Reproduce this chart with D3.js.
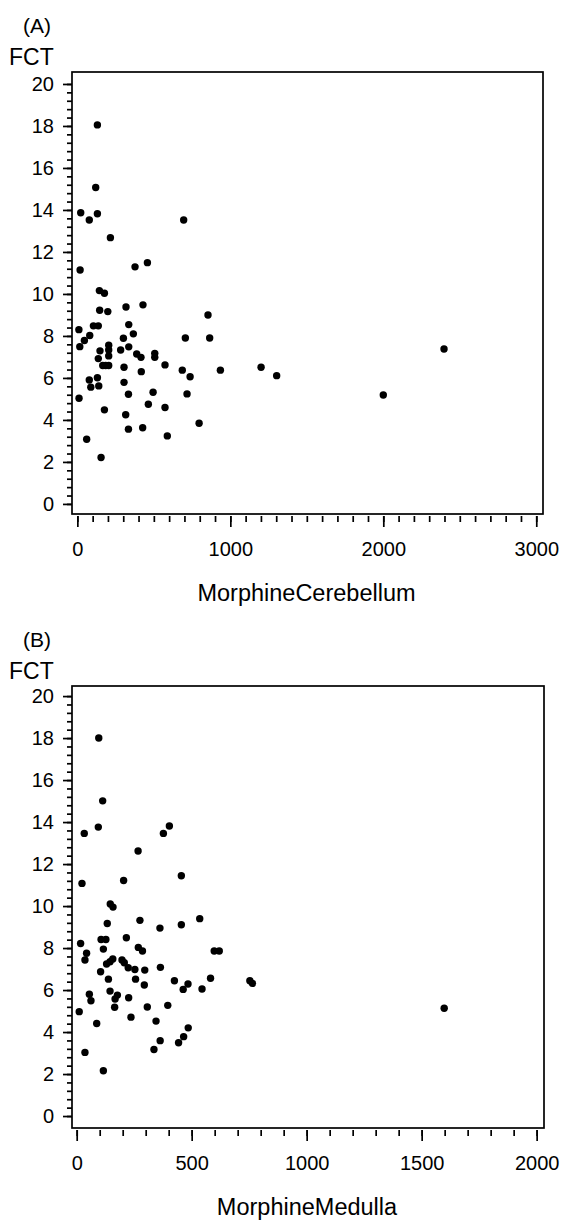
<!DOCTYPE html>
<html><head><meta charset="utf-8">
<script src="https://cdn.jsdelivr.net/npm/d3@7"></script>
<style>body{margin:0;background:#fff}svg{display:block}text{font-family:"Liberation Sans",Arial,sans-serif;fill:#000}</style>
</head><body>
<svg id="c" width="561" height="1223"></svg>
<script>
// Panel A: MorphineCerebellum vs FCT
const cerebellumX = [131,120,22,131,78,695,216,18,377,458,144,177,146,199,318,429,854,336,105,137,10,81,46,16,366,301,706,865,205,205,148,283,336,205,137,388,416,506,506,166,205,185,305,573,418,686,737,935,1201,1303,78,131,88,140,305,334,495,717,11,464,573,177,316,796,334,427,588,61,155,2000,2397];
const cerebellumFCT = [18.05,15.07,13.87,13.82,13.52,13.52,12.68,11.14,11.29,11.49,10.16,10.03,9.22,9.16,9.38,9.48,9.0,8.54,8.48,8.48,8.3,8.02,7.78,7.49,8.1,7.89,7.9,7.9,7.56,7.33,7.29,7.33,7.48,7.05,6.92,7.14,6.98,7.17,6.98,6.59,6.59,6.59,6.51,6.62,6.3,6.37,6.06,6.37,6.51,6.11,5.9,6.01,5.56,5.62,5.79,5.22,5.32,5.24,5.03,4.75,4.59,4.48,4.25,3.84,3.56,3.63,3.24,3.08,2.21,5.19,7.38];
// Panel B: MorphineMedulla vs FCT
const medullaX = [96,113,33,94,377,403,267,23,204,455,146,158,133,275,362,455,535,17,106,127,216,43,36,116,268,286,598,620,130,145,157,197,207,224,253,296,364,104,138,256,294,425,484,463,545,582,753,764,145,55,62,177,167,226,165,307,396,11,236,345,87,485,465,443,363,336,36,116,1598];
const medullaFCT = [18.0,15.01,13.46,13.76,13.46,13.81,12.62,11.08,11.22,11.44,10.1,9.95,9.17,9.32,8.95,9.11,9.4,8.22,8.41,8.41,8.49,7.75,7.43,7.95,8.03,7.86,7.86,7.86,7.24,7.35,7.48,7.43,7.3,7.06,6.98,6.95,7.08,6.87,6.52,6.52,6.24,6.44,6.29,6.03,6.05,6.56,6.44,6.32,5.95,5.8,5.49,5.76,5.57,5.63,5.18,5.19,5.27,4.97,4.71,4.52,4.41,4.2,3.78,3.49,3.59,3.17,3.03,2.16,5.13];
const yTicks = [0,2,4,6,8,10,12,14,16,18,20];
const xTicksA = [0,1000,2000,3000];
const xTicksB = [0,500,1000,1500,2000];

const svg = d3.select("#c");

function panel(o){
  const g = svg.append("g");
  const x = d3.scaleLinear().domain(o.xDom).range([o.left,o.right]);
  const y = d3.scaleLinear().domain(o.yDom).range([o.bottom,o.top]);
  // frame
  g.append("rect").attr("x",o.left).attr("y",o.top).attr("width",o.right-o.left).attr("height",o.bottom-o.top)
    .attr("fill","none").attr("stroke","#000").attr("stroke-width",1.7);
  // y axis
  const ya = g.append("g").attr("transform",`translate(${o.left},0)`)
    .call(d3.axisLeft(y).tickValues(d3.range(0,20.01,0.4)).tickSize(5).tickFormat(""));
  ya.select(".domain").remove();
  ya.selectAll("line").attr("stroke-width",1.7);
  const yb = g.append("g").attr("transform",`translate(${o.left},0)`)
    .call(d3.axisLeft(y).tickValues(yTicks).tickSize(9).tickPadding(9));
  yb.select(".domain").remove();
  yb.selectAll("line").attr("stroke-width",1.7);
  yb.selectAll("text").attr("font-size",20).attr("font-family","Liberation Sans, Arial, sans-serif");
  // x axis (offset below frame)
  const xa = g.append("g").attr("transform",`translate(0,${o.bottom+2})`)
    .call(d3.axisBottom(x).tickValues(d3.range(0,o.xMax+1,100)).tickSize(6).tickFormat(""));
  xa.select(".domain").remove();
  xa.selectAll("line").attr("stroke-width",1.7);
  const xb = g.append("g").attr("transform",`translate(0,${o.bottom+2})`)
    .call(d3.axisBottom(x).tickValues(o.xTicks).tickSize(11).tickPadding(15).tickFormat(d3.format("d")));
  xb.select(".domain").remove();
  xb.selectAll("line").attr("stroke-width",1.7);
  xb.selectAll("text").attr("font-size",20).attr("font-family","Liberation Sans, Arial, sans-serif");
  // points
  g.selectAll("circle.p").data(o.xs.map((v,i)=>[v,o.ys[i]])).join("circle")
    .attr("cx",d=>x(d[0])).attr("cy",d=>y(d[1])).attr("r",3.7).attr("fill","#000");
  // labels
  g.append("text").attr("x",23).attr("y",o.top-39).attr("font-size",21).text(o.tag);
  g.append("text").attr("x",9).attr("y",o.top-7).attr("font-size",23).text("FCT");
  g.append("text").attr("x",(o.left+o.right)/2 - 1).attr("y",o.bottom+87).attr("font-size",23.5)
    .attr("text-anchor","middle").text(o.xLabel);
}

panel({tag:"(A)",xs:cerebellumX,ys:cerebellumFCT,left:72,right:543,top:72,bottom:514,
  xDom:[-35,3044],yDom:[-0.48,20.57],xMax:3000,xTicks:xTicksA,xLabel:"MorphineCerebellum"});
panel({tag:"(B)",xs:medullaX,ys:medullaFCT,left:72,right:544,top:686,bottom:1128,
  xDom:[-20.4,2032],yDom:[-0.57,20.48],xMax:2000,xTicks:xTicksB,xLabel:"MorphineMedulla"});
</script>
</body></html>
